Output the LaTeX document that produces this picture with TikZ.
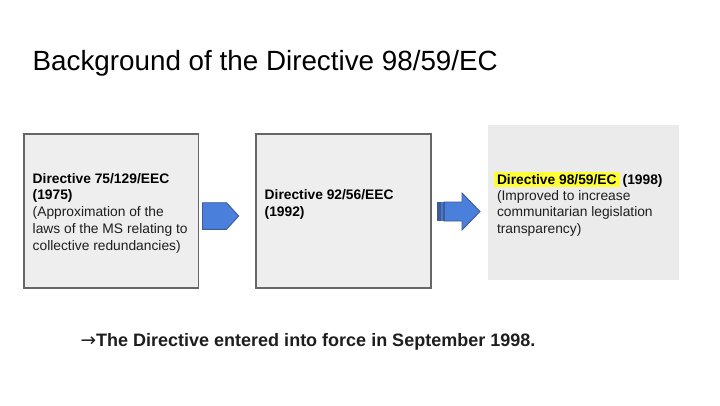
\documentclass[tikz,border=0pt]{standalone}
\usepackage{fontspec}
\setmainfont{Liberation Sans}
\newfontfamily\arrowfont{DejaVu Sans}
\begin{document}
\begin{tikzpicture}[x=1pt,y=-1pt,
  box/.style={draw=boxline,fill=boxfill,line width=1.1pt},
  arrowshape/.style={fill=arrowblue,draw=arrowedge,line width=0.9pt,line join=miter},
  boxtext/.style={anchor=base west,inner sep=0pt,align=left,font=\fontsize{13.8}{16.5}\selectfont,text=textgray}]
\definecolor{boxfill}{HTML}{EEEEEE}
\definecolor{boxfillb}{HTML}{EBEBEB}
\definecolor{boxline}{HTML}{666666}
\definecolor{arrowblue}{HTML}{4A7FDC}
\definecolor{arrowedge}{HTML}{3D5C96}
\definecolor{hl}{HTML}{FFFF33}
\definecolor{textgray}{HTML}{1E1E1E}
\useasboundingbox (0,0) rectangle (720,405);
\fill[white] (0,0) rectangle (720,405);
% title
\node[anchor=base west,inner sep=0pt,font=\fontsize{27.8}{32}\selectfont] (title) at (32.5,70) {Background of the Directive 98/59/EC};
% boxes
\draw[box] (24,134) rectangle (198.5,288);
\node[inner sep=0pt] (b1) at (111.25,211) {};
\draw[box] (256,134) rectangle (431,288);
\node[inner sep=0pt] (b2) at (343.5,211) {};
\fill[boxfillb] (488,125) rectangle (679,280);
\node[inner sep=0pt] (b3) at (583.5,202.5) {};
% highlight
\fill[hl] (494,172) rectangle (620,186.5);
% texts (anchored at the baseline of the last line)
\node[boxtext,font=\fontsize{13.8}{16.7}\selectfont] (t1) at (32.5,250) {\textbf{\color{black}Directive 75/129/EEC}\\\textbf{\color{black}(1975)}\\(Approximation of the\\laws of the MS relating to\\collective redundancies)};
\node[boxtext] (t2) at (264.5,216) {\textbf{\color{black}Directive 92/56/EEC}\\\textbf{\color{black}(1992)}};
\node[boxtext,font=\fontsize{13.8}{16.3}\selectfont] (t3) at (496.8,233) {\textbf{\color{black}Directive 98/59/EC}\hspace{6pt}\textbf{\color{black}(1998)}\\(Improved to increase\\communitarian legislation\\transparency)};
% arrow 1 (pentagon)
\draw[arrowshape] (202.5,202.7) -- (226.5,202.7) -- (238.7,216) -- (226.5,229.3) -- (202.5,229.3) -- cycle;
% arrow 2 (striped block arrow)
\draw[arrowshape] (444,202) -- (462,202) -- (462,193) -- (480,211.5) -- (462,230) -- (462,221) -- (444,221) -- cycle;
\fill[arrowedge] (437.3,202) rectangle (440.7,221);
\fill[arrowblue!80!arrowedge] (440.7,202) rectangle (442.7,221);
\fill[arrowedge] (442.7,202) rectangle (444.5,221);
% bottom statement
\node[anchor=base west,inner sep=0pt,font=\fontsize{18}{20}\selectfont,text=textgray] (note) at (80.5,346) {{\arrowfont\fontsize{18.5}{20}\selectfont →}\textbf{The Directive entered into force in September 1998.}};
\end{tikzpicture}
\end{document}
